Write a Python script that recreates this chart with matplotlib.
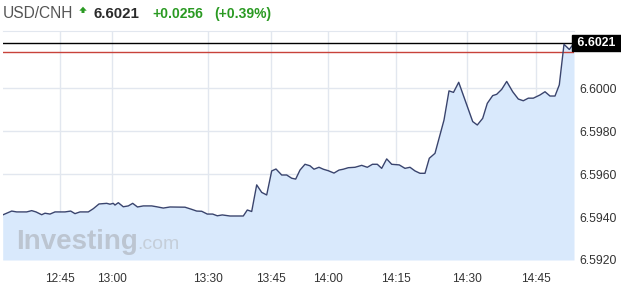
import matplotlib
matplotlib.use("Agg")
import matplotlib.pyplot as plt
from matplotlib.patches import Polygon

plt.rcParams["font.family"] = ["Liberation Sans", "DejaVu Sans"]

# ── Colours ───────────────────────────────────────────────────────────────────
LINE = "#39446e"
FILL = "#d9e9fc"
GRID = "#e2e7ef"
TEXT = "#333333"
GREEN = "#2a9a22"
RED = "#c8423a"

# ── Data (x = sample position along the session, y = USD/CNH quote) ───────────
pos = [2.7, 11.7, 16.7, 26.7, 31.7, 36, 41.7, 45, 50, 55, 65, 70.7, 75, 80, 88.3,
       93.3, 99, 106.7, 110, 113.3, 115, 118.3, 123.3, 128.3, 132.7, 137.5, 143.3,
       151.7, 156.7, 163.3, 170, 185, 191.7, 196.7, 201.7, 207.3, 212.7, 217.3,
       222.3, 230, 243.3, 247.3, 251.7, 256.7, 261.7, 266.7, 271.7, 276, 281.7,
       286.7, 291.7, 295.7, 300, 305, 310, 314, 319, 323.3, 328.3, 334, 339,
       343.3, 348.3, 355, 361.7, 367.3, 372.5, 377.3, 381.7, 386.7, 391.7, 399.3,
       405, 410, 415, 420, 425, 429.3, 435, 444, 449, 453.5, 458.7, 472.7, 477.3,
       482.7, 487.3, 492.7, 496.7, 501.7, 506.7, 512.7, 518.3, 523.3, 528.3,
       533.3, 540, 545, 550, 555, 559.3, 564, 569.3, 574]
price = [6.59410, 6.59428, 6.59424, 6.59424, 6.59430, 6.59424, 6.59411, 6.59418,
         6.59414, 6.59424, 6.59424, 6.59428, 6.59416, 6.59424, 6.59424, 6.59439,
         6.59461, 6.59464, 6.59460, 6.59464, 6.59456, 6.59467, 6.59448, 6.59452,
         6.59464, 6.59447, 6.59452, 6.59452, 6.59448, 6.59442, 6.59447, 6.59446,
         6.59436, 6.59428, 6.59427, 6.59414, 6.59414, 6.59406, 6.59410, 6.59405,
         6.59405, 6.59433, 6.59426, 6.59550, 6.59515, 6.59503, 6.59615, 6.59624,
         6.59596, 6.59596, 6.59581, 6.59577, 6.59619, 6.59646, 6.59639, 6.59623,
         6.59632, 6.59623, 6.59616, 6.59605, 6.59619, 6.59623, 6.59630, 6.59632,
         6.59641, 6.59632, 6.59646, 6.59646, 6.59627, 6.59671, 6.59646, 6.59643,
         6.59627, 6.59632, 6.59615, 6.59604, 6.59604, 6.59674, 6.59697, 6.59852,
         6.59988, 6.59981, 6.60028, 6.59845, 6.59829, 6.59860, 6.59930, 6.59966,
         6.59972, 6.59995, 6.60032, 6.59984, 6.59950, 6.59942, 6.59954, 6.59954,
         6.59969, 6.59984, 6.59964, 6.59964, 6.60016, 6.60205, 6.60181, 6.6021]

tick_pos = [60.3, 112.3, 208.3, 271, 328.3, 395.7, 467.3, 535.7]
tick_labels = ["12:45", "13:00", "13:30", "13:45", "14:00", "14:15", "14:30", "14:45"]
y_ticks = [6.5920, 6.5940, 6.5960, 6.5980, 6.6000]

last = 6.6021
change = 0.0256
change_pct = 0.39
ref_level = 6.6017

# ── Figure ────────────────────────────────────────────────────────────────────
W, H = 621, 293
fig = plt.figure(figsize=(W / 100, H / 100), dpi=100, facecolor="white")
ax = fig.add_axes([2.5 / W, 1 - 260 / H, (574 - 2.5) / W, (260 - 31) / H])
ax.set_xlim(2.5, 574)
ax.set_ylim(6.5920, 6.60267)

ax.fill_between(pos, price, 6.5920, color=FILL, lw=0, zorder=1)
ax.plot(pos, price, color=LINE, lw=1.0, zorder=3)

ax.axhline(ref_level, color=RED, lw=1.0, zorder=2)
ax.axhline(last, color="black", lw=1.0, zorder=2)

ax.set_xticks(tick_pos)
ax.set_xticklabels(tick_labels)
ax.set_yticks(y_ticks)
ax.set_yticklabels([f"{v:.4f}" for v in y_ticks])
ax.grid(True, color=GRID, lw=1.0, zorder=0)
ax.set_axisbelow(True)
for name, sp in ax.spines.items():
    sp.set_visible(name == "top")
ax.spines["top"].set_color(GRID)

ax.yaxis.tick_right()
ax.tick_params(axis="y", length=0, pad=4, labelsize=8.8, labelcolor=TEXT)
ax.tick_params(axis="x", length=0, pad=9, labelsize=8.6, labelcolor=TEXT)

# Last-price tag on the right
ax.text(1.0, last, f" {last:.4f} ", transform=ax.get_yaxis_transform(),
        ha="left", va="center", color="white", fontsize=8.8, fontweight="bold",
        bbox=dict(boxstyle="square,pad=0.15", fc="black", ec="black"),
        zorder=5, clip_on=False)

# Watermark
ax.text(16, 6.5925, "Investing", fontsize=20, fontweight="bold",
        color="#bcc5d1", zorder=2, ha="left", va="baseline")
ax.text(137, 6.5925, ".com", fontsize=14, color="#c5ced9", zorder=2,
        ha="left", va="baseline")

# Header
fig.text(3 / W, 1 - 14 / H, "USD/CNH", fontsize=11.2, color="#555555",
         ha="left", va="center")
# small green "up" arrow icon (figure fraction coords)
arrow = [(79.3, 10.7), (83, 6.7), (86.7, 10.7), (84.5, 10.7), (84.5, 13),
         (81.5, 13), (81.5, 10.7)]
fig.patches.append(Polygon([(x / W, 1 - y / H) for x, y in arrow], closed=True,
                           transform=fig.transFigure, fc=GREEN, ec="none"))
fig.text(93 / W, 1 - 14 / H, f"{last:.4f}", fontsize=10.8,
         fontweight="bold", color="#2b2b2b", ha="left", va="center")
fig.text(152 / W, 1 - 14 / H, f"+{change:.4f}", fontsize=10,
         fontweight="bold", color=GREEN, ha="left", va="center")
fig.text(214 / W, 1 - 14 / H, f"(+{change_pct:.2f}%)", fontsize=10,
         fontweight="bold", color=GREEN, ha="left", va="center")

fig.savefig("out.png", dpi=100, facecolor="white")
